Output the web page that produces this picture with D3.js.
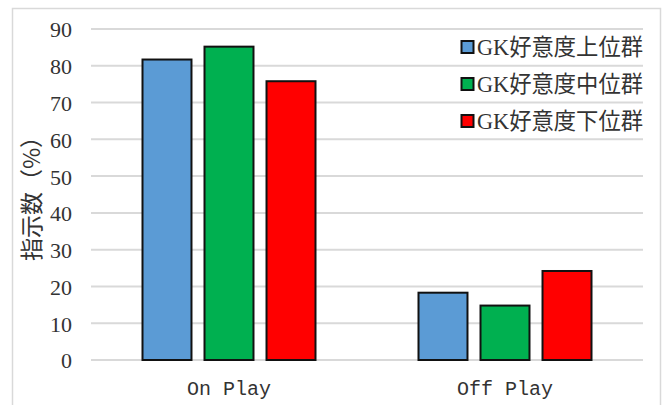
<!DOCTYPE html>
<html>
<head>
<meta charset="utf-8">
<script src="https://cdn.jsdelivr.net/npm/d3@7"></script>
<style>
  body { margin: 0; background: #fff; }
  .tick text { font-family: "Liberation Serif", serif; font-size: 22px; fill: #333; }
</style>
</head>
<body>
<script>
// data
const categories = ["On Play", "Off Play"];
const seriesNames = ["GK好意度上位群", "GK好意度中位群", "GK好意度下位群"];
const upperGroup = [81.7, 18.3];
const middleGroup = [85.2, 14.8];
const lowerGroup = [75.8, 24.2];
const yTicks = [0, 10, 20, 30, 40, 50, 60, 70, 80, 90];

const colors = ["#5b9bd5", "#00b050", "#ff0000"];
const seriesValues = [upperGroup, middleGroup, lowerGroup];

const W = 665, H = 405;
const margin = { top: 29, right: 22, bottom: 45, left: 91 },
    width = W - margin.left - margin.right,
    height = H - margin.top - margin.bottom;

const svg = d3.select("body").append("svg")
    .attr("width", W)
    .attr("height", H);

// outer chart border
svg.append("rect")
    .attr("x", 12.5).attr("y", 8.5)
    .attr("width", 648).attr("height", 410)
    .attr("fill", "none")
    .attr("stroke", "#d9d9d9")
    .attr("stroke-width", 1.5);

const g = svg.append("g")
    .attr("transform", "translate(" + margin.left + "," + margin.top + ")");

const x = d3.scaleBand()
    .domain(categories)
    .range([0, width]);

const xInner = d3.scaleBand()
    .domain(seriesNames)
    .range([51.5, x.bandwidth() - 51.5])
    .paddingInner(0.21);

const y = d3.scaleLinear()
    .domain([0, 90])
    .range([height, 0]);

// gridlines
g.append("g")
    .selectAll("line")
    .data(yTicks)
    .enter().append("line")
    .attr("x1", 0).attr("x2", width)
    .attr("y1", d => y(d)).attr("y2", d => y(d))
    .attr("stroke", "#d9d9d9")
    .attr("stroke-width", 2);

// y axis labels
const yAxis = g.append("g")
    .attr("transform", "translate(-19,0)")
    .call(d3.axisLeft(y).tickValues(yTicks).tickSize(0).tickPadding(0));
yAxis.select(".domain").remove();
yAxis.selectAll("text").attr("dy", "0.36em");

// bars
const groups = g.selectAll(".cat")
    .data(categories)
    .enter().append("g")
    .attr("class", "cat")
    .attr("transform", d => "translate(" + x(d) + ",0)");

groups.selectAll("rect")
    .data((c, ci) => seriesNames.map((s, si) => ({ s: s, si: si, v: seriesValues[si][ci] })))
    .enter().append("rect")
    .attr("x", d => xInner(d.s))
    .attr("width", xInner.bandwidth())
    .attr("y", d => y(d.v))
    .attr("height", d => y(0) - y(d.v))
    .attr("fill", d => colors[d.si])
    .attr("stroke", "#111")
    .attr("stroke-width", 2);

// category labels
g.selectAll(".cat-label")
    .data(categories)
    .enter().append("text")
    .attr("class", "cat-label")
    .attr("x", d => x(d) + x.bandwidth() / 2)
    .attr("y", height + 35)
    .attr("text-anchor", "middle")
    .style("font-family", "'Liberation Mono', monospace")
    .style("font-size", "20px")
    .style("fill", "#333")
    .text(d => d);

// y axis title
svg.append("text")
    .attr("transform", "translate(40,193) rotate(-90)")
    .attr("text-anchor", "middle")
    .style("font-family", "'Noto Sans CJK JP', sans-serif")
    .style("font-size", "23px")
    .style("fill", "#333")
    .text("指示数（%）");

// legend
const legend = svg.append("g")
    .attr("transform", "translate(461,0)");

const legendRows = legend.selectAll("g")
    .data(seriesNames)
    .enter().append("g")
    .attr("transform", (d, i) => "translate(0," + (47 + i * 37) + ")");

legendRows.append("rect")
    .attr("x", 0.5).attr("y", -6)
    .attr("width", 12).attr("height", 12)
    .attr("fill", (d, i) => colors[i])
    .attr("stroke", "#111")
    .attr("stroke-width", 2);

legendRows.append("text")
    .attr("x", 16)
    .attr("y", 8)
    .attr("textLength", 166)
    .attr("lengthAdjust", "spacingAndGlyphs")
    .style("font-family", "'Liberation Serif', 'Noto Sans CJK JP', serif")
    .style("font-size", "23px")
    .style("fill", "#333")
    .text(d => d);
</script>
</body>
</html>
